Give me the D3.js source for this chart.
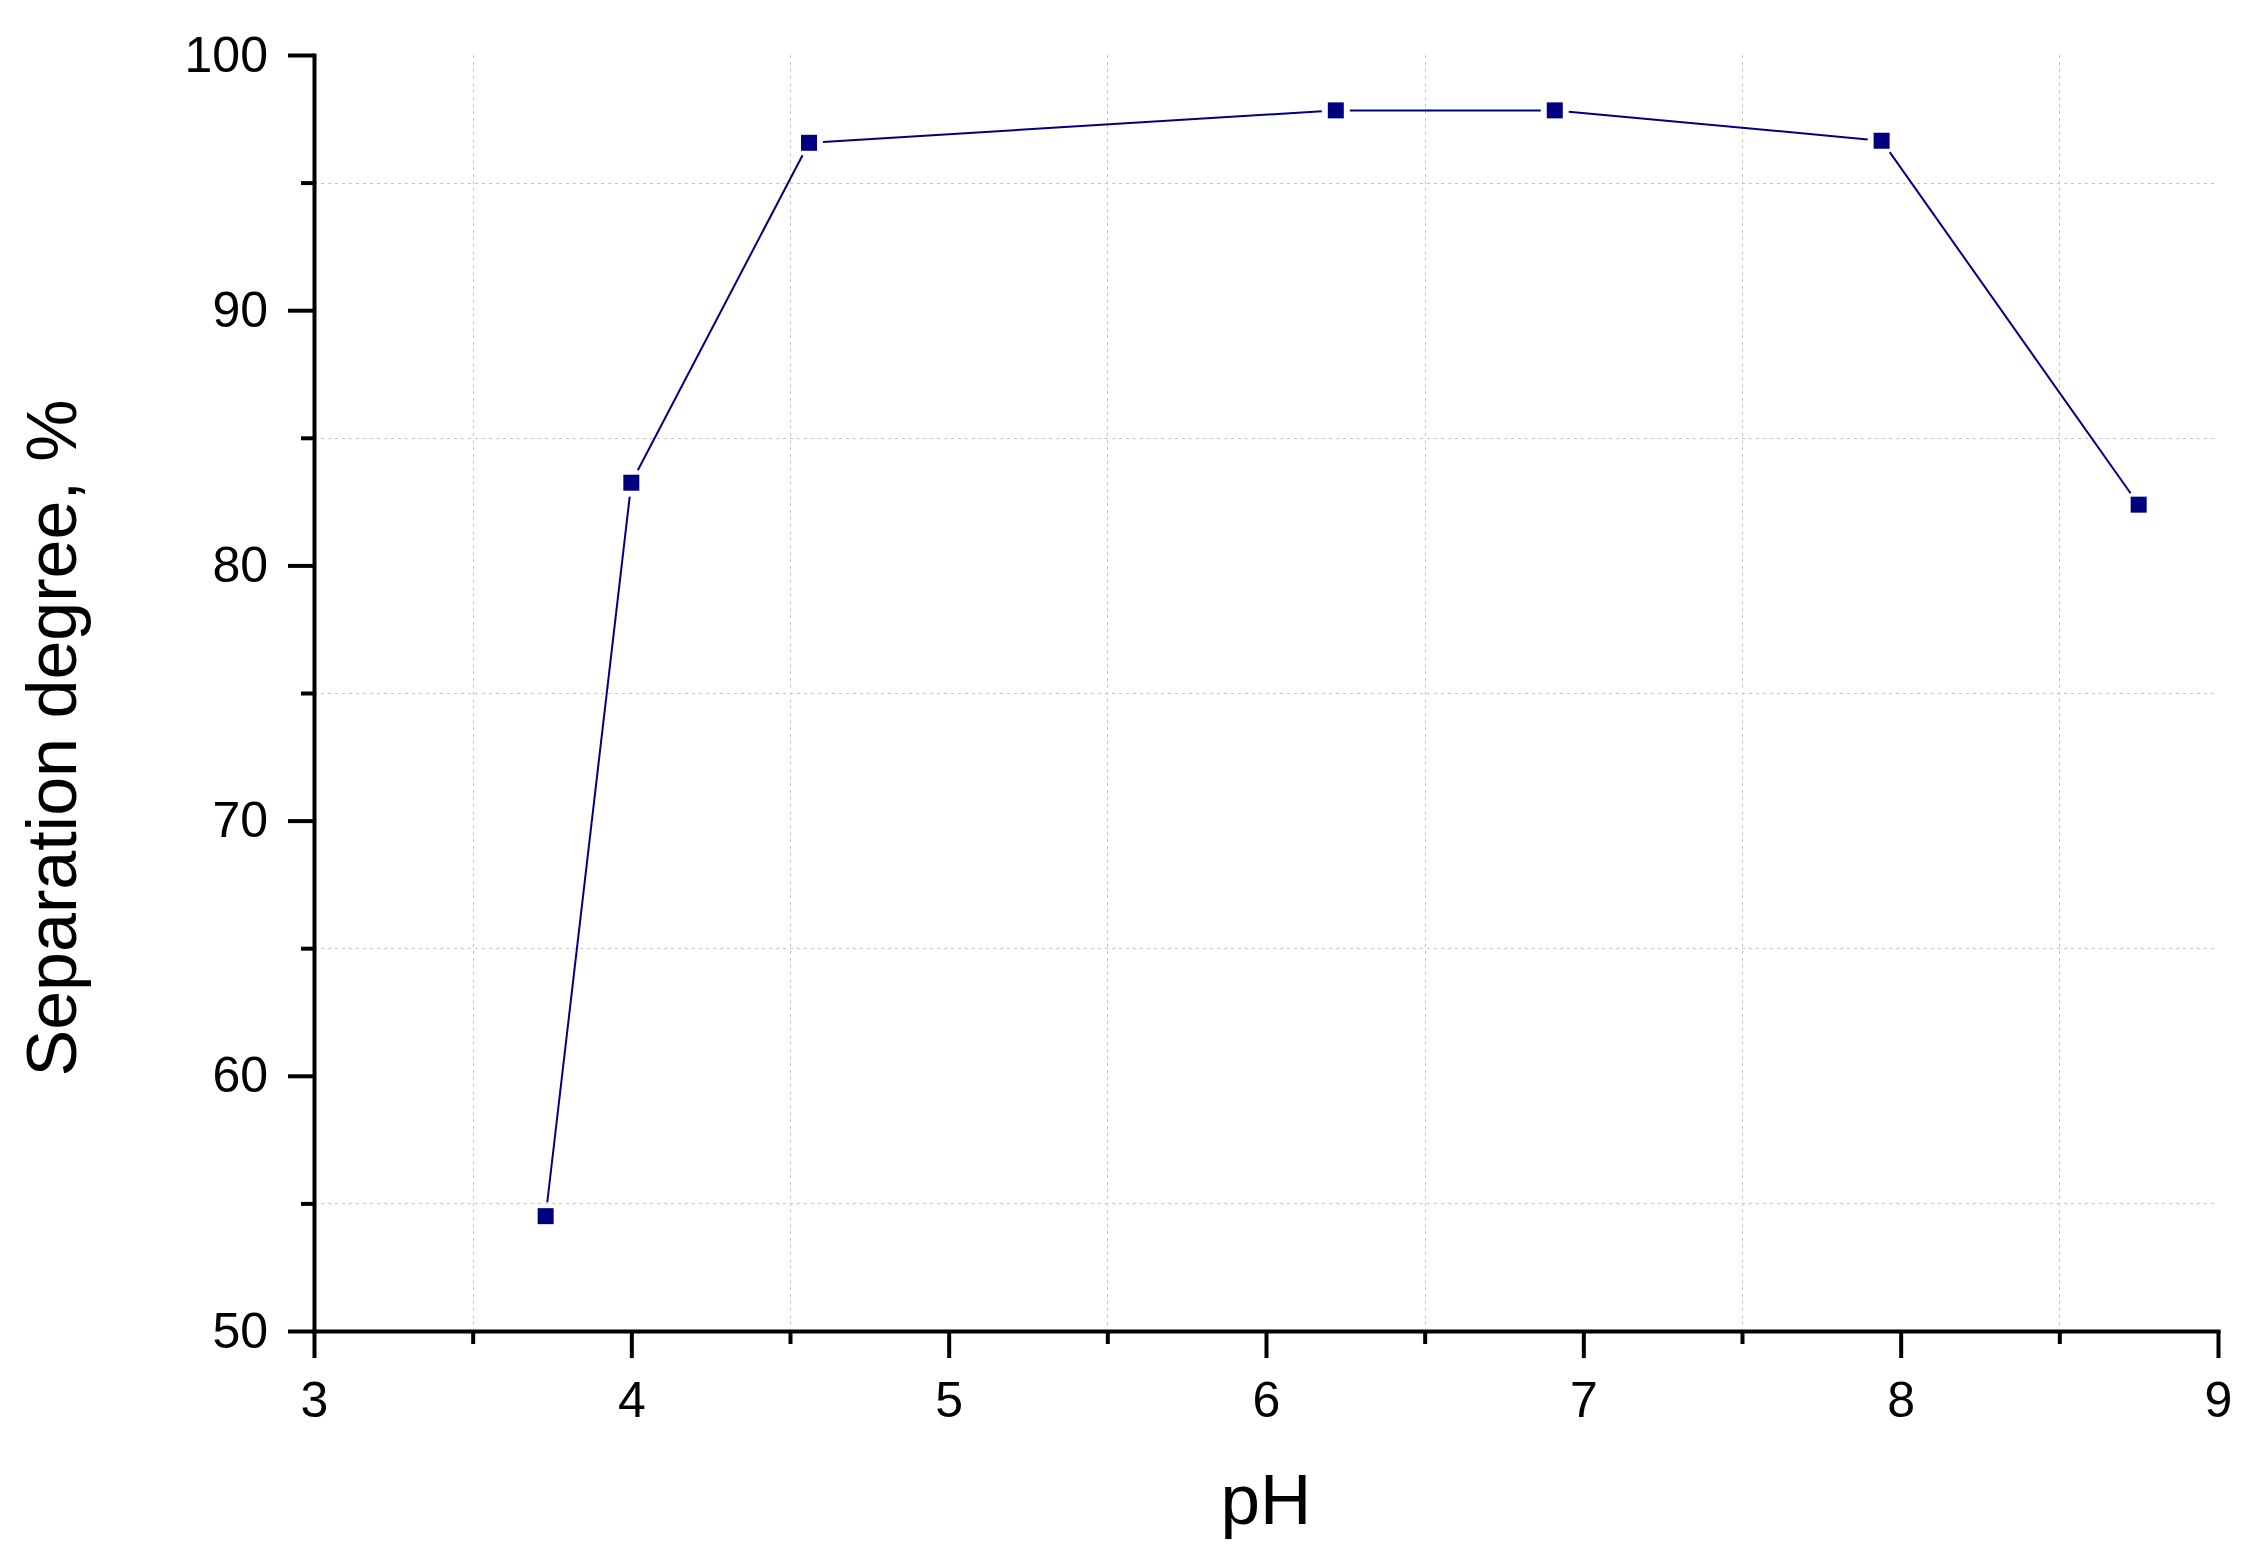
<!DOCTYPE html>
<html>
<head>
<meta charset="utf-8">
<script src="https://cdn.jsdelivr.net/npm/d3@7"></script>
<style>
  html, body { margin: 0; padding: 0; background: #fff; }
  svg { display: block; font-family: "Liberation Sans", Arial, sans-serif; }
</style>
</head>
<body>
<script>
// ---- data ----
const pH = [3.73, 4.0, 4.56, 6.22, 6.91, 7.94, 8.75];
const separation = [54.5, 83.24, 96.56, 97.83, 97.83, 96.64, 82.38];
const xTicks = [3, 4, 5, 6, 7, 8, 9];
const xMinorTicks = [3.5, 4.5, 5.5, 6.5, 7.5, 8.5];
const yTicks = [50, 60, 70, 80, 90, 100];
const yMinorTicks = [55, 65, 75, 85, 95];
const xLabel = "pH";
const yLabel = "Separation degree, %";

// ---- layout ----
const W = 2251, H = 1567;
const margin = { left: 314, right: 33, top: 55, bottom: 236 };
const iw = W - margin.left - margin.right;
const ih = H - margin.top - margin.bottom;
const color = "#000080";

const svg = d3.select("body").append("svg").attr("width", W).attr("height", H);
const g = svg.append("g").attr("transform", `translate(${margin.left},${margin.top})`);

const x = d3.scaleLinear().domain([3, 9]).range([0, iw]);
const y = d3.scaleLinear().domain([50, 100]).range([ih, 0]);

// grid (at minor positions, dotted)
const grid = g.append("g").attr("class", "grid");
grid.selectAll("line.vg").data(xMinorTicks).join("line")
  .attr("x1", d => Math.round(x(d)) + 0.5).attr("x2", d => Math.round(x(d)) + 0.5)
  .attr("y1", 0).attr("y2", ih)
  .attr("stroke", "#c4c4c4").attr("stroke-width", 1).attr("stroke-dasharray", "3,4");
grid.selectAll("line.hg").data(yMinorTicks).join("line")
  .attr("y1", d => Math.round(y(d)) + 0.5).attr("y2", d => Math.round(y(d)) + 0.5)
  .attr("x1", 0).attr("x2", iw)
  .attr("stroke", "#c4c4c4").attr("stroke-width", 1).attr("stroke-dasharray", "3,4");

// data line with gaps near markers
const gap = 14;
const segs = [];
for (let i = 0; i < pH.length - 1; i++) {
  const x1 = x(pH[i]), y1 = y(separation[i]), x2 = x(pH[i + 1]), y2 = y(separation[i + 1]);
  const L = Math.hypot(x2 - x1, y2 - y1);
  const ux = (x2 - x1) / L, uy = (y2 - y1) / L;
  segs.push([x1 + ux * gap, y1 + uy * gap, x2 - ux * gap, y2 - uy * gap]);
}
g.append("g").selectAll("line").data(segs).join("line")
  .attr("x1", d => d[0]).attr("y1", d => d[1]).attr("x2", d => d[2]).attr("y2", d => d[3])
  .attr("stroke", color).attr("stroke-width", 2);

// markers
const ms = 16;
g.append("g").selectAll("rect").data(pH.map((p, i) => [p, separation[i]])).join("rect")
  .attr("x", d => x(d[0]) - ms / 2).attr("y", d => y(d[1]) - ms / 2)
  .attr("width", ms).attr("height", ms).attr("fill", color);

// axes
const fontSize = 50;
function styleAxis(sel) {
  sel.selectAll("path.domain").attr("stroke", "#000").attr("stroke-width", 4)
    .attr("stroke-linecap", "square");
  sel.selectAll(".tick line").attr("stroke", "#000").attr("stroke-width", 4);
  sel.selectAll(".tick text").attr("fill", "#000").attr("font-size", fontSize)
    .attr("font-family", "'Liberation Sans', Arial, sans-serif");
}

// minor ticks
g.append("g").attr("transform", `translate(0,${ih})`)
  .call(d3.axisBottom(x).tickValues(xMinorTicks).tickSize(13).tickSizeOuter(0).tickFormat(""))
  .call(s => { styleAxis(s); s.select("path.domain").remove(); });
g.append("g")
  .call(d3.axisLeft(y).tickValues(yMinorTicks).tickSize(13).tickSizeOuter(0).tickFormat(""))
  .call(s => { styleAxis(s); s.select("path.domain").remove(); });

// major
g.append("g").attr("transform", `translate(0,${ih})`)
  .call(d3.axisBottom(x).tickValues(xTicks).tickSize(27).tickSizeOuter(0).tickPadding(23).tickFormat(d3.format("d")))
  .call(styleAxis);
g.append("g")
  .call(d3.axisLeft(y).tickValues(yTicks).tickSize(26).tickSizeOuter(0).tickPadding(20).tickFormat(d3.format("d")))
  .call(styleAxis);

// axis titles
svg.append("text").attr("x", margin.left + iw / 2).attr("y", 1524)
  .attr("text-anchor", "middle").attr("font-size", 71).attr("fill", "#000").text(xLabel);
svg.append("text").attr("transform", "translate(76,738) rotate(-90)")
  .attr("text-anchor", "middle").attr("font-size", 70).attr("fill", "#000").text(yLabel);
</script>
</body>
</html>
